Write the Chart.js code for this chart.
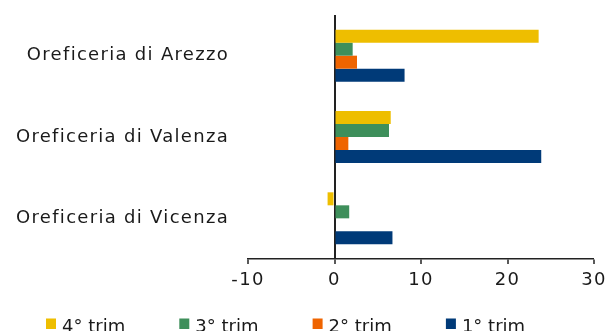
<!DOCTYPE html>
<html>
<head>
<meta charset="utf-8">
<script src="https://cdn.jsdelivr.net/npm/chart.js@4/dist/chart.umd.min.js"></script>
<style>
  html, body { margin: 0; padding: 0; background: #ffffff; }
  #wrap { width: 608px; height: 331px; position: relative; }
</style>
</head>
<body>
<div id="wrap"><canvas id="c" width="608" height="331"></canvas></div>
<script>
// Categories (districts) and quarterly values
const categories = ['Oreficeria di Arezzo', 'Oreficeria di Valenza', 'Oreficeria di Vicenza'];
const seriesLabels = ['4° trim', '3° trim', '2° trim', '1° trim'];
const trim4 = [23.6, 6.5, -0.8];
const trim3 = [2.1, 6.3, 1.7];
const trim2 = [2.6, 1.6, 0];
const trim1 = [8.1, 23.9, 6.7];
const xTicks = [-10, 0, 10, 20, 30];

const colors = ['#EEBE00', '#3E8F5B', '#EF6400', '#003A78'];
const FONT = 'DejaVu Sans';
const AXIS_SPACING = '1.3px';

// Wider tracking for the axis labels
const tracking = {
  id: 'tracking',
  beforeUpdate(chart) { chart.ctx.letterSpacing = AXIS_SPACING; },
  beforeDraw(chart) { chart.ctx.letterSpacing = AXIS_SPACING; }
};

// Legend along the bottom, drawn from the datasets
const bottomLegend = {
  id: 'bottomLegend',
  afterDraw(chart) {
    const ctx = chart.ctx;
    ctx.save();
    ctx.letterSpacing = '0px';
    ctx.font = '18px "' + FONT + '"';
    ctx.textBaseline = 'alphabetic';
    ctx.textAlign = 'left';
    chart.data.datasets.forEach((ds, i) => {
      const x = 46 + i * 133.3;
      ctx.fillStyle = ds.backgroundColor;
      ctx.fillRect(x, 318.5, 10, 10.5);
      ctx.fillStyle = '#1a1a1a';
      ctx.fillText(ds.label, x + 16, 331.5);
    });
    ctx.restore();
  }
};

const values = [trim4, trim3, trim2, trim1];

new Chart(document.getElementById('c'), {
  type: 'bar',
  data: {
    labels: categories,
    datasets: seriesLabels.map((lab, i) => ({
      label: lab,
      data: values[i],
      backgroundColor: colors[i],
      borderWidth: 0,
      categoryPercentage: 0.64,
      barPercentage: 1.0
    }))
  },
  options: {
    indexAxis: 'y',
    responsive: false,
    animation: false,
    devicePixelRatio: 1,
    layout: { padding: { top: 15, right: 14, bottom: 40, left: 0 } },
    plugins: {
      legend: { display: false },
      tooltip: { enabled: false }
    },
    scales: {
      x: {
        min: -10,
        max: 30,
        afterBuildTicks(scale) { scale.ticks = xTicks.map(v => ({ value: v })); },
        afterFit(scale) {
          scale.height = 32;
          scale.paddingLeft = 0;
          scale.paddingRight = 0;
        },
        grid: {
          drawOnChartArea: true,
          color: ctx => (ctx.tick && ctx.tick.value === 0) ? '#222222' : 'rgba(0,0,0,0)',
          lineWidth: ctx => (ctx.tick && ctx.tick.value === 0) ? 2 : 0,
          tickColor: '#222222',
          tickLength: 5,
          tickWidth: 1.5
        },
        border: { display: true, color: '#222222', width: 1.5 },
        ticks: {
          color: '#1a1a1a',
          font: { family: FONT, size: 18 },
          padding: 6,
          maxRotation: 0
        }
      },
      y: {
        afterFit(scale) {
          scale.width = 248;
          scale.paddingTop = 0;
          scale.paddingBottom = 0;
        },
        grid: { display: false, drawTicks: false },
        border: { display: false },
        ticks: {
          color: '#1a1a1a',
          font: { family: FONT, size: 18 },
          padding: 19
        }
      }
    }
  },
  plugins: [tracking, bottomLegend]
});
</script>
</body>
</html>
